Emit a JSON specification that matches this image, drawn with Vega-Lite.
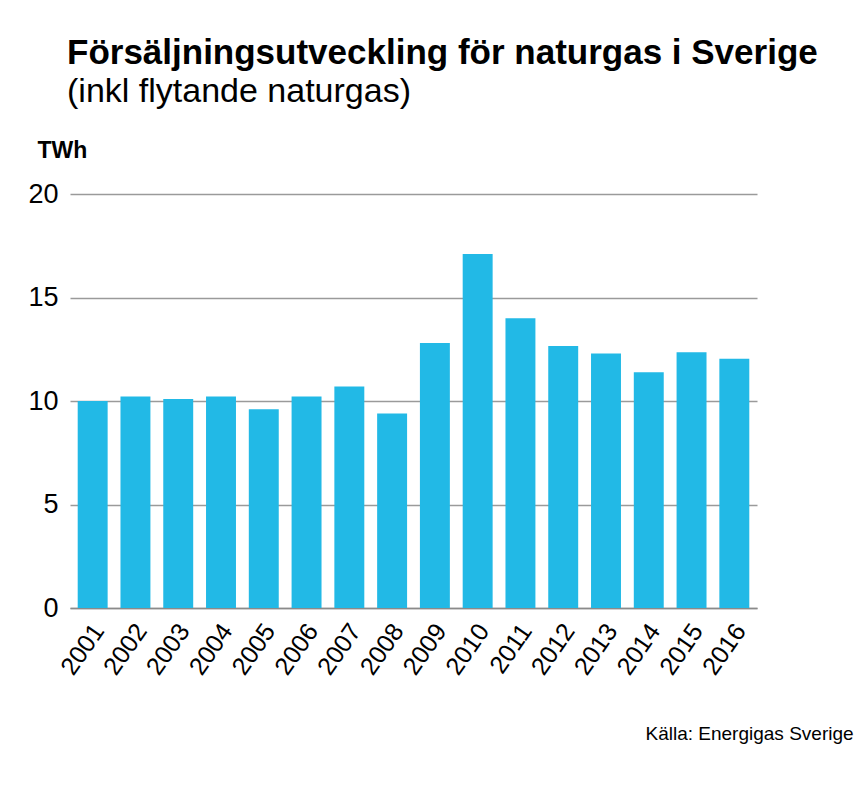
{
  "$schema": "https://vega.github.io/schema/vega-lite/v6.json",
  "width": 687,
  "height": 414,
  "autosize": {"type": "none"},
  "padding": {"left": 70, "top": 194, "right": 101, "bottom": 177},
  "background": "white",
  "title": {
    "text": "Försäljningsutveckling för naturgas i Sverige",
    "subtitle": "(inkl flytande naturgas)",
    "anchor": "start",
    "frame": "group",
    "dx": -3,
    "offset": 30,
    "font": "Liberation Sans",
    "fontSize": 35,
    "fontWeight": "bold",
    "color": "#000000",
    "subtitleFont": "Liberation Sans",
    "subtitleFontSize": 34,
    "subtitleColor": "#000000",
    "subtitlePadding": 4
  },
  "data": {
    "values": [
      {"year": "2001", "twh": 10.0},
      {"year": "2002", "twh": 10.22},
      {"year": "2003", "twh": 10.1},
      {"year": "2004", "twh": 10.22},
      {"year": "2005", "twh": 9.6},
      {"year": "2006", "twh": 10.22},
      {"year": "2007", "twh": 10.7},
      {"year": "2008", "twh": 9.4},
      {"year": "2009", "twh": 12.8},
      {"year": "2010", "twh": 17.1},
      {"year": "2011", "twh": 14.0},
      {"year": "2012", "twh": 12.66},
      {"year": "2013", "twh": 12.3},
      {"year": "2014", "twh": 11.39},
      {"year": "2015", "twh": 12.35},
      {"year": "2016", "twh": 12.04}
    ]
  },
  "mark": {"type": "bar", "color": "#22b9e6"},
  "encoding": {
    "x": {
      "field": "year",
      "type": "ordinal",
      "scale": {"paddingInner": 0.3, "paddingOuter": 0.18},
      "axis": {
        "title": "Källa: Energigas Sverige",
        "titleFont": "Liberation Sans",
        "titleFontSize": 19,
        "titleFontWeight": "normal",
        "titleColor": "#000000",
        "titleAnchor": "start",
        "titleAlign": "left",
        "titleBaseline": "alphabetic",
        "titleX": 575,
        "titleY": 131,
        "labelAngle": -55,
        "labelAlign": "right",
        "labelBaseline": "middle",
        "labelPadding": 18,
        "labelOffset": 6,
        "labelFont": "Liberation Sans",
        "labelFontSize": 25,
        "labelColor": "#000000",
        "ticks": false,
        "domainColor": "#8a8a8a",
        "domainWidth": 1.5
      }
    },
    "y": {
      "field": "twh",
      "type": "quantitative",
      "scale": {"domain": [0, 20]},
      "axis": {
        "title": "TWh",
        "titleAngle": 0,
        "titleAlign": "left",
        "titleBaseline": "alphabetic",
        "titleX": -33,
        "titleY": -37,
        "titleFont": "Liberation Sans",
        "titleFontSize": 23,
        "titleFontWeight": "bold",
        "titleColor": "#000000",
        "values": [0, 5, 10, 15, 20],
        "labelFont": "Liberation Sans",
        "labelFontSize": 27,
        "labelColor": "#000000",
        "labelPadding": 12,
        "ticks": false,
        "domain": false,
        "gridColor": "#9a9a9a",
        "gridWidth": 1.5
      }
    }
  },
  "config": {"view": {"stroke": null}}
}
